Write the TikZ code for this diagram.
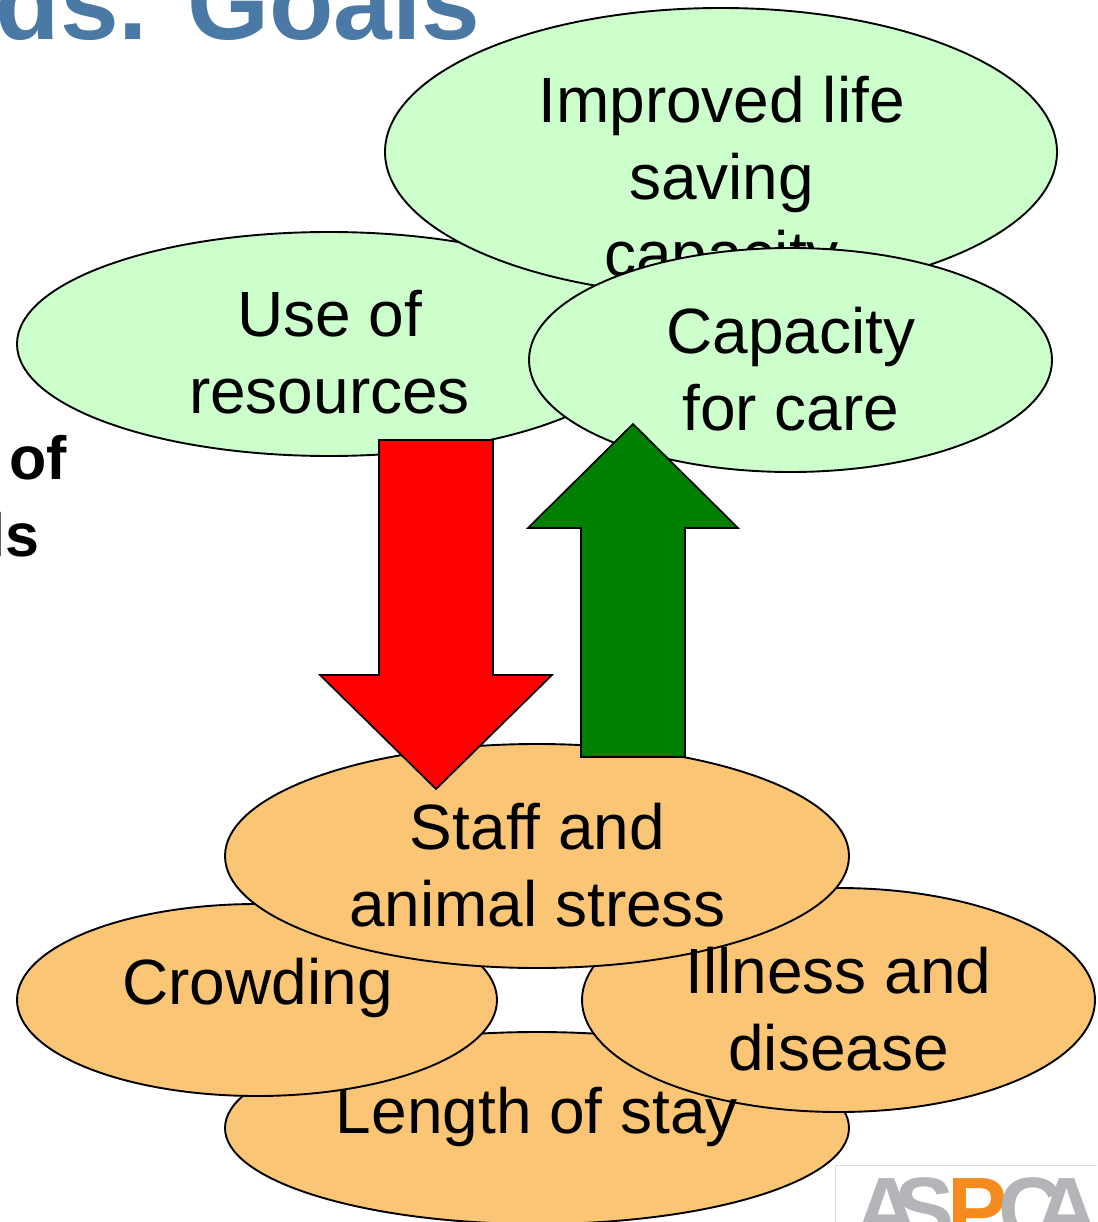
\documentclass[tikz,border=0pt]{standalone}
\usepackage{fontspec}
\setmainfont[Ligatures=NoCommon]{Liberation Sans}
\usetikzlibrary{shapes.geometric}
\definecolor{titleblue}{HTML}{4A79A5}
\definecolor{palegreen}{HTML}{CCFFCC}
\definecolor{softorange}{HTML}{FAC575}
\definecolor{logogrey}{HTML}{B3B5B8}
\definecolor{logoorange}{HTML}{F58A1F}
\definecolor{logoframe}{HTML}{DDDDDD}
\tikzset{
  blob/.style={ellipse,draw=black,line width=1.9pt,inner sep=0pt},
  goodblob/.style={blob,fill=palegreen},
  stressblob/.style={blob,fill=softorange},
  lbl/.style={inner sep=0pt,align=center,text height=50pt,text depth=14pt,font=\fontsize{64}{77}\selectfont},
  bigarrow/.style={draw=black,line width=1.7pt,line join=miter},
}
\begin{document}
\begin{tikzpicture}[x=1pt,y=-1pt]
\useasboundingbox (0,0) rectangle (1097,1222);
\clip (0,0) rectangle (1097,1222);
\fill[white] (0,0) rectangle (1097,1222);
% slide fragments
\node[anchor=base east,inner sep=0pt,text=titleblue,font=\fontsize{105.5}{120}\selectfont\bfseries] (title) at (480.5,40) {ds. Goals};
\node[anchor=base east,inner sep=0pt,font=\fontsize{61}{72}\selectfont\bfseries] (frag1) at (67,479) {of};
\node[anchor=base east,inner sep=0pt,font=\fontsize{61}{72}\selectfont\bfseries] (frag2) at (40,556) {ls};
% logo
\node[anchor=north west,draw=logoframe,line width=1pt,fill=white,minimum width=270pt,minimum height=70pt,inner sep=0pt] (logoframe) at (835,1165) {};
\node[anchor=base west,inner sep=0pt,text=logogrey,font=\fontsize{90}{94}\selectfont\bfseries] (logo) at (854,1240) {A\kern-25pt S\kern-7pt\textcolor{logoorange}{P}\kern-9pt C\kern-29pt A};
% goals
\node[goodblob,minimum width=624pt,minimum height=224pt] (use) at (329,344) {};
\node[lbl] (usetext) at (329.5,395.5) {Use of\\resources};
\node[goodblob,minimum width=672pt,minimum height=288pt] (life) at (721,152) {};
\node[lbl] (lifetext) at (721.5,258.5) {Improved life\\saving\\capacity};
\node[goodblob,minimum width=523pt,minimum height=224pt] (care) at (790.5,360) {};
\node[lbl] (caretext) at (791,412) {Capacity\\for care};
% stressors
\node[stressblob,minimum width=624pt,minimum height=192pt] (stay) at (537,1128) {};
\node[stressblob,minimum width=480pt,minimum height=192pt] (crowd) at (257,1000) {};
\node[lbl] (crowdtext) at (257.5,986.5) {Crowding};
\node[stressblob,minimum width=513pt,minimum height=224pt] (ill) at (838.5,1000) {};
\node[stressblob,minimum width=624pt,minimum height=224pt] (stress) at (537,856) {};
\node[lbl] (stresstext) at (537.5,908) {Staff and\\animal stress};
\node[lbl] (staytext) at (537,1115.5) {Length of stay};
\node[lbl] (illtext) at (838.5,1052) {Illness and\\disease};
% arrows
\draw[bigarrow,fill=red] (379,440) -- (493,440) -- (493,675) -- (552,675) -- (436,789) -- (320,675) -- (379,675) -- cycle;
\draw[bigarrow,fill=green!50!black] (633,424) -- (738,528) -- (685,528) -- (685,757) -- (581,757) -- (581,528) -- (528,528) -- cycle;
\end{tikzpicture}
\end{document}
